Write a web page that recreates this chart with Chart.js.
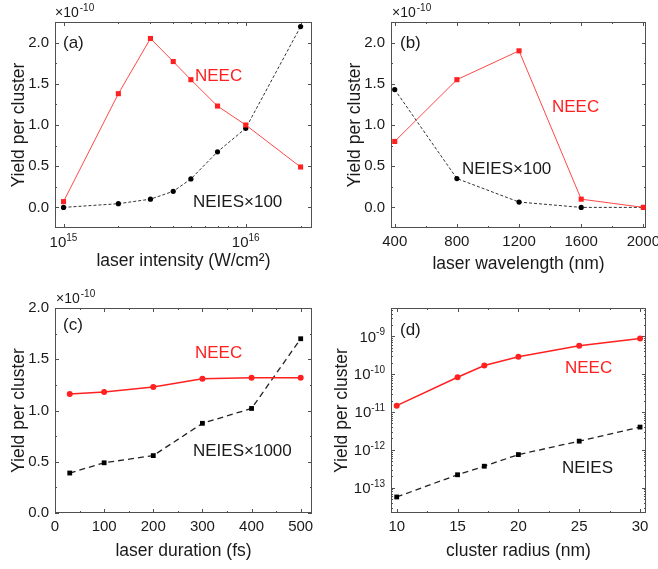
<!DOCTYPE html>
<html>
<head>
<meta charset="utf-8">
<script src="https://cdn.jsdelivr.net/npm/chart.js@4"></script>
<style>
  html, body { margin: 0; padding: 0; background: #fff; }
  #wrap { position: relative; width: 658px; height: 569px; overflow: hidden; }
  #wrap canvas { position: absolute; }
</style>
</head>
<body>
<div id="wrap">
  <canvas id="panel-a" width="329" height="284" style="left:0;top:0"></canvas>
  <canvas id="panel-b" width="329" height="284" style="left:329px;top:0"></canvas>
  <canvas id="panel-c" width="329" height="285" style="left:0;top:284px"></canvas>
  <canvas id="panel-d" width="329" height="285" style="left:329px;top:284px"></canvas>
</div>
<script>
// (a) laser intensity, yields in units of 1e-10
var intensity = [1e15, 2e15, 3e15, 4e15, 5e15, 7e15, 1e16, 2e16];
var neecA = [0.07, 1.38, 2.05, 1.77, 1.55, 1.23, 1.00, 0.49];
var neiesA = [0.00, 0.045, 0.10, 0.195, 0.345, 0.675, 0.96, 2.195];

// (b) laser wavelength
var wavelength = [400, 800, 1200, 1600, 2000];
var neecB = [0.80, 1.55, 1.90, 0.10, 0.00];
var neiesB = [1.43, 0.35, 0.065, 0.0, 0.0];

// (c) laser duration
var duration = [30, 100, 200, 300, 400, 500];
var neecC = [1.16, 1.18, 1.23, 1.31, 1.32, 1.32];
var neiesC = [0.39, 0.49, 0.56, 0.875, 1.02, 1.70];

// (d) cluster radius, absolute yields
var radius = [10, 15, 17.2, 20, 25, 30];
var neecD = [1.47e-11, 8.3e-11, 1.7e-10, 2.9e-10, 5.6e-10, 8.7e-10];
var neiesD = [5.7e-14, 2.2e-13, 3.7e-13, 7.5e-13, 1.7e-12, 4.0e-12];

// tick values
var yTicksLin = [0, 0.5, 1.0, 1.5, 2.0];
var yMinorLin = [0.25, 0.75, 1.25, 1.75];
var xTicksA = [1e15, 1e16];
var xMinorA = [2e15, 3e15, 4e15, 5e15, 6e15, 7e15, 8e15, 9e15, 2e16];
var xTicksB = [400, 800, 1200, 1600, 2000];
var xMinorB = [600, 1000, 1400, 1800];
var xTicksC = [0, 100, 200, 300, 400, 500];
var xMinorC = [50, 150, 250, 350, 450];
var xTicksD = [10, 15, 20, 25, 30];
var xMinorD = [12.5, 17.5, 22.5, 27.5];
var yTicksD = [1e-13, 1e-12, 1e-11, 1e-10, 1e-9];

var FONT = "'Liberation Sans', Arial, sans-serif";
var RED = '#ff2020';
var INK = '#1a1a1a';

function logMinor(min, max) {
  var out = [];
  for (var e = Math.floor(Math.log10(min)); e <= Math.ceil(Math.log10(max)); e++) {
    for (var m = 2; m <= 9; m++) {
      var v = m * Math.pow(10, e);
      if (v > min && v < max) out.push(v);
    }
  }
  return out;
}

function pairs(xs, ys) {
  return xs.map(function (x, i) { return {x: x, y: ys[i]}; });
}

// "10" with a raised exponent, centred on (x, y) or right-aligned at x
function drawPow(ctx, v, x, y, align) {
  var exp = String(Math.round(Math.log10(v)));
  ctx.font = '15px ' + FONT;
  var wb = ctx.measureText('10').width;
  ctx.font = '10px ' + FONT;
  var we = ctx.measureText(exp).width;
  var left = align === 'center' ? x - (wb + we) / 2 : x - wb - we;
  var base = y + 5.3;
  ctx.textAlign = 'left';
  ctx.textBaseline = 'alphabetic';
  ctx.font = '15px ' + FONT;
  ctx.fillText('10', left, base);
  ctx.font = '10px ' + FONT;
  ctx.fillText(exp, left + wb, base - 6.5);
}

function framePlugin(cfg) {
  return {
    id: 'frame',
    beforeDatasetsDraw: function (chart) {
      var ctx = chart.ctx, a = chart.chartArea;
      var xs = chart.scales.x, ys = chart.scales.y;
      ctx.save();
      ctx.strokeStyle = '#505050';
      ctx.lineWidth = 1;
      ctx.beginPath();
      function xt(vals, len) {
        vals.forEach(function (v) {
          var p = Math.round(xs.getPixelForValue(v)) + 0.5;
          ctx.moveTo(p, a.bottom); ctx.lineTo(p, a.bottom - len);
          ctx.moveTo(p, a.top); ctx.lineTo(p, a.top + len);
        });
      }
      function yt(vals, len) {
        vals.forEach(function (v) {
          var p = Math.round(ys.getPixelForValue(v)) + 0.5;
          ctx.moveTo(a.left, p); ctx.lineTo(a.left + len, p);
          ctx.moveTo(a.right, p); ctx.lineTo(a.right - len, p);
        });
      }
      xt(cfg.xTicks, 4); xt(cfg.xMinor, 2);
      yt(cfg.yTicks, 4); yt(cfg.yMinor, 2);
      ctx.stroke();
      ctx.strokeRect(Math.round(a.left) + 0.5, Math.round(a.top) + 0.5,
        Math.round(a.right - a.left) - 1, Math.round(a.bottom - a.top) - 1);
      ctx.restore();
    },
    afterDraw: function (chart) {
      var ctx = chart.ctx, a = chart.chartArea;
      var xs = chart.scales.x, ys = chart.scales.y;
      ctx.save();
      ctx.fillStyle = INK;
      if (cfg.xType === 'logarithmic') {
        cfg.xTicks.forEach(function (v) {
          drawPow(ctx, v, xs.getPixelForValue(v), a.bottom + 14, 'center');
        });
      }
      if (cfg.yType === 'logarithmic') {
        cfg.yTicks.forEach(function (v) {
          drawPow(ctx, v, a.left - 6, ys.getPixelForValue(v), 'right');
        });
      }
      if (cfg.header) {
        ctx.textBaseline = 'alphabetic';
        ctx.textAlign = 'left';
        ctx.font = '14px ' + FONT;
        ctx.fillText('\u00d710', cfg.header[0], cfg.header[1]);
        var w = ctx.measureText('\u00d710').width;
        ctx.font = '10px ' + FONT;
        ctx.fillText('-10', cfg.header[0] + w + 1, cfg.header[1] - 6);
      }
      ctx.textAlign = 'left';
      ctx.textBaseline = 'middle';
      ctx.font = '17px ' + FONT;
      ctx.fillText(cfg.letter[0], cfg.letter[1], cfg.letter[2]);
      cfg.notes.forEach(function (n) {
        ctx.fillStyle = n[3];
        ctx.fillText(n[0], n[1], n[2]);
      });
      ctx.restore();
    }
  };
}

function makePanel(id, cfg) {
  var canvas = document.getElementById(id);
  var W = canvas.width, H = canvas.height;
  var area = cfg.area;
  var tickFont = {family: FONT, size: 15};
  var titleFont = {family: FONT, size: 17.5};

  return new Chart(canvas, {
    type: 'line',
    data: {datasets: cfg.datasets},
    options: {
      responsive: false,
      animation: false,
      devicePixelRatio: 1,
      layout: {padding: {left: 0, top: area[1], right: W - area[2], bottom: 0}},
      plugins: {legend: {display: false}, tooltip: {enabled: false}},
      scales: {
        x: {
          type: cfg.xType,
          min: cfg.xRange[0],
          max: cfg.xRange[1],
          grid: {display: false, drawTicks: false},
          border: {display: false},
          afterBuildTicks: function (s) {
            s.ticks = cfg.xTicks.map(function (v) { return {value: v}; });
          },
          afterFit: function (s) {
            s.height = H - area[3];
            s.paddingLeft = 0; s.paddingRight = 0;
          },
          ticks: {
            display: cfg.xType !== 'logarithmic',
            font: tickFont, color: INK, padding: 5,
            maxRotation: 0, autoSkip: false, callback: cfg.xLabel
          },
          title: {
            display: true, text: cfg.xTitle, font: titleFont, color: INK,
            padding: {top: 0, bottom: cfg.xTitlePad}
          }
        },
        y: {
          type: cfg.yType,
          min: cfg.yRange[0],
          max: cfg.yRange[1],
          grid: {display: false, drawTicks: false},
          border: {display: false},
          afterBuildTicks: function (s) {
            s.ticks = cfg.yTicks.map(function (v) { return {value: v}; });
          },
          afterFit: function (s) {
            s.width = area[0];
            s.paddingTop = 0; s.paddingBottom = 0;
          },
          ticks: {
            display: cfg.yType !== 'logarithmic',
            font: tickFont, color: INK, padding: 6,
            autoSkip: false, callback: cfg.yLabel
          },
          title: {
            display: true, text: 'Yield per cluster', font: titleFont, color: INK,
            padding: {top: cfg.yTitlePad, bottom: 0}
          }
        }
      }
    },
    plugins: [framePlugin(cfg)]
  });
}

function thinSet(xs, ys) {
  return [
    {data: pairs(xs, ys[0]), borderColor: '#ff4848', borderWidth: 1, pointStyle: 'rect',
      pointRadius: 3.6, pointBackgroundColor: RED, pointBorderWidth: 0, clip: false},
    {data: pairs(xs, ys[1]), borderColor: '#333', borderWidth: 1, borderDash: [3, 2],
      pointStyle: 'circle', pointRadius: 2.6, pointBackgroundColor: '#000',
      pointBorderWidth: 0, clip: false}
  ];
}

function boldSet(xs, ys) {
  return [
    {data: pairs(xs, ys[0]), borderColor: RED, borderWidth: 1.5, pointStyle: 'circle',
      pointRadius: 3, pointBackgroundColor: RED, pointBorderWidth: 0, clip: false},
    {data: pairs(xs, ys[1]), borderColor: '#222', borderWidth: 1.3, borderDash: [6, 4],
      pointStyle: 'rect', pointRadius: 3.4, pointBackgroundColor: '#000',
      pointBorderWidth: 0, clip: false}
  ];
}

function fixed1(v) { return Number(v).toFixed(1); }
function plain(v) { return String(v); }

makePanel('panel-a', {
  area: [55, 22, 312, 228],
  xType: 'logarithmic', xRange: [8.98e14, 2.31e16],
  xTicks: xTicksA, xMinor: xMinorA, xLabel: plain,
  yType: 'linear', yRange: [-0.25, 2.25],
  yTicks: yTicksLin, yMinor: yMinorLin, yLabel: fixed1,
  xTitle: 'laser intensity (W/cm\u00b2)', xTitlePad: 12, yTitlePad: 9,
  header: [55, 17],
  letter: ['(a)', 63, 43],
  notes: [['NEEC', 195, 76, RED], ['NEIES\u00d7100', 193, 202, INK]],
  datasets: thinSet(intensity, [neecA, neiesA])
});

makePanel('panel-b', {
  area: [62, 22, 317, 228],
  xType: 'linear', xRange: [376, 2017],
  xTicks: xTicksB, xMinor: xMinorB, xLabel: plain,
  yType: 'linear', yRange: [-0.25, 2.25],
  yTicks: yTicksLin, yMinor: yMinorLin, yLabel: fixed1,
  xTitle: 'laser wavelength (nm)', xTitlePad: 9, yTitlePad: 16,
  header: [63, 17],
  letter: ['(b)', 71, 43],
  notes: [['NEEC', 223, 107, RED], ['NEIES\u00d7100', 133, 169, INK]],
  datasets: thinSet(wavelength, [neecB, neiesB])
});

makePanel('panel-c', {
  area: [55, 24, 312, 229],
  xType: 'linear', xRange: [0, 523],
  xTicks: xTicksC, xMinor: xMinorC, xLabel: plain,
  yType: 'linear', yRange: [0, 2.0],
  yTicks: yTicksLin, yMinor: yMinorLin, yLabel: fixed1,
  xTitle: 'laser duration (fs)', xTitlePad: 7, yTitlePad: 9,
  header: [56, 19],
  letter: ['(c)', 63, 41],
  notes: [['NEEC', 195, 69, RED], ['NEIES\u00d71000', 193, 167, INK]],
  datasets: boldSet(duration, [neecC, neiesC])
});

makePanel('panel-d', {
  area: [62, 24, 317, 229],
  xType: 'linear', xRange: [9.53, 30.49],
  xTicks: xTicksD, xMinor: xMinorD, xLabel: plain,
  yType: 'logarithmic', yRange: [2.15e-14, 5.6e-9],
  yTicks: yTicksD, yMinor: logMinor(2.15e-14, 5.6e-9), yLabel: plain,
  xTitle: 'cluster radius (nm)', xTitlePad: 7, yTitlePad: 3,
  header: null,
  letter: ['(d)', 71, 46],
  notes: [['NEEC', 236, 84, RED], ['NEIES', 233, 184, INK]],
  datasets: boldSet(radius, [neecD, neiesD])
});
</script>
</body>
</html>
